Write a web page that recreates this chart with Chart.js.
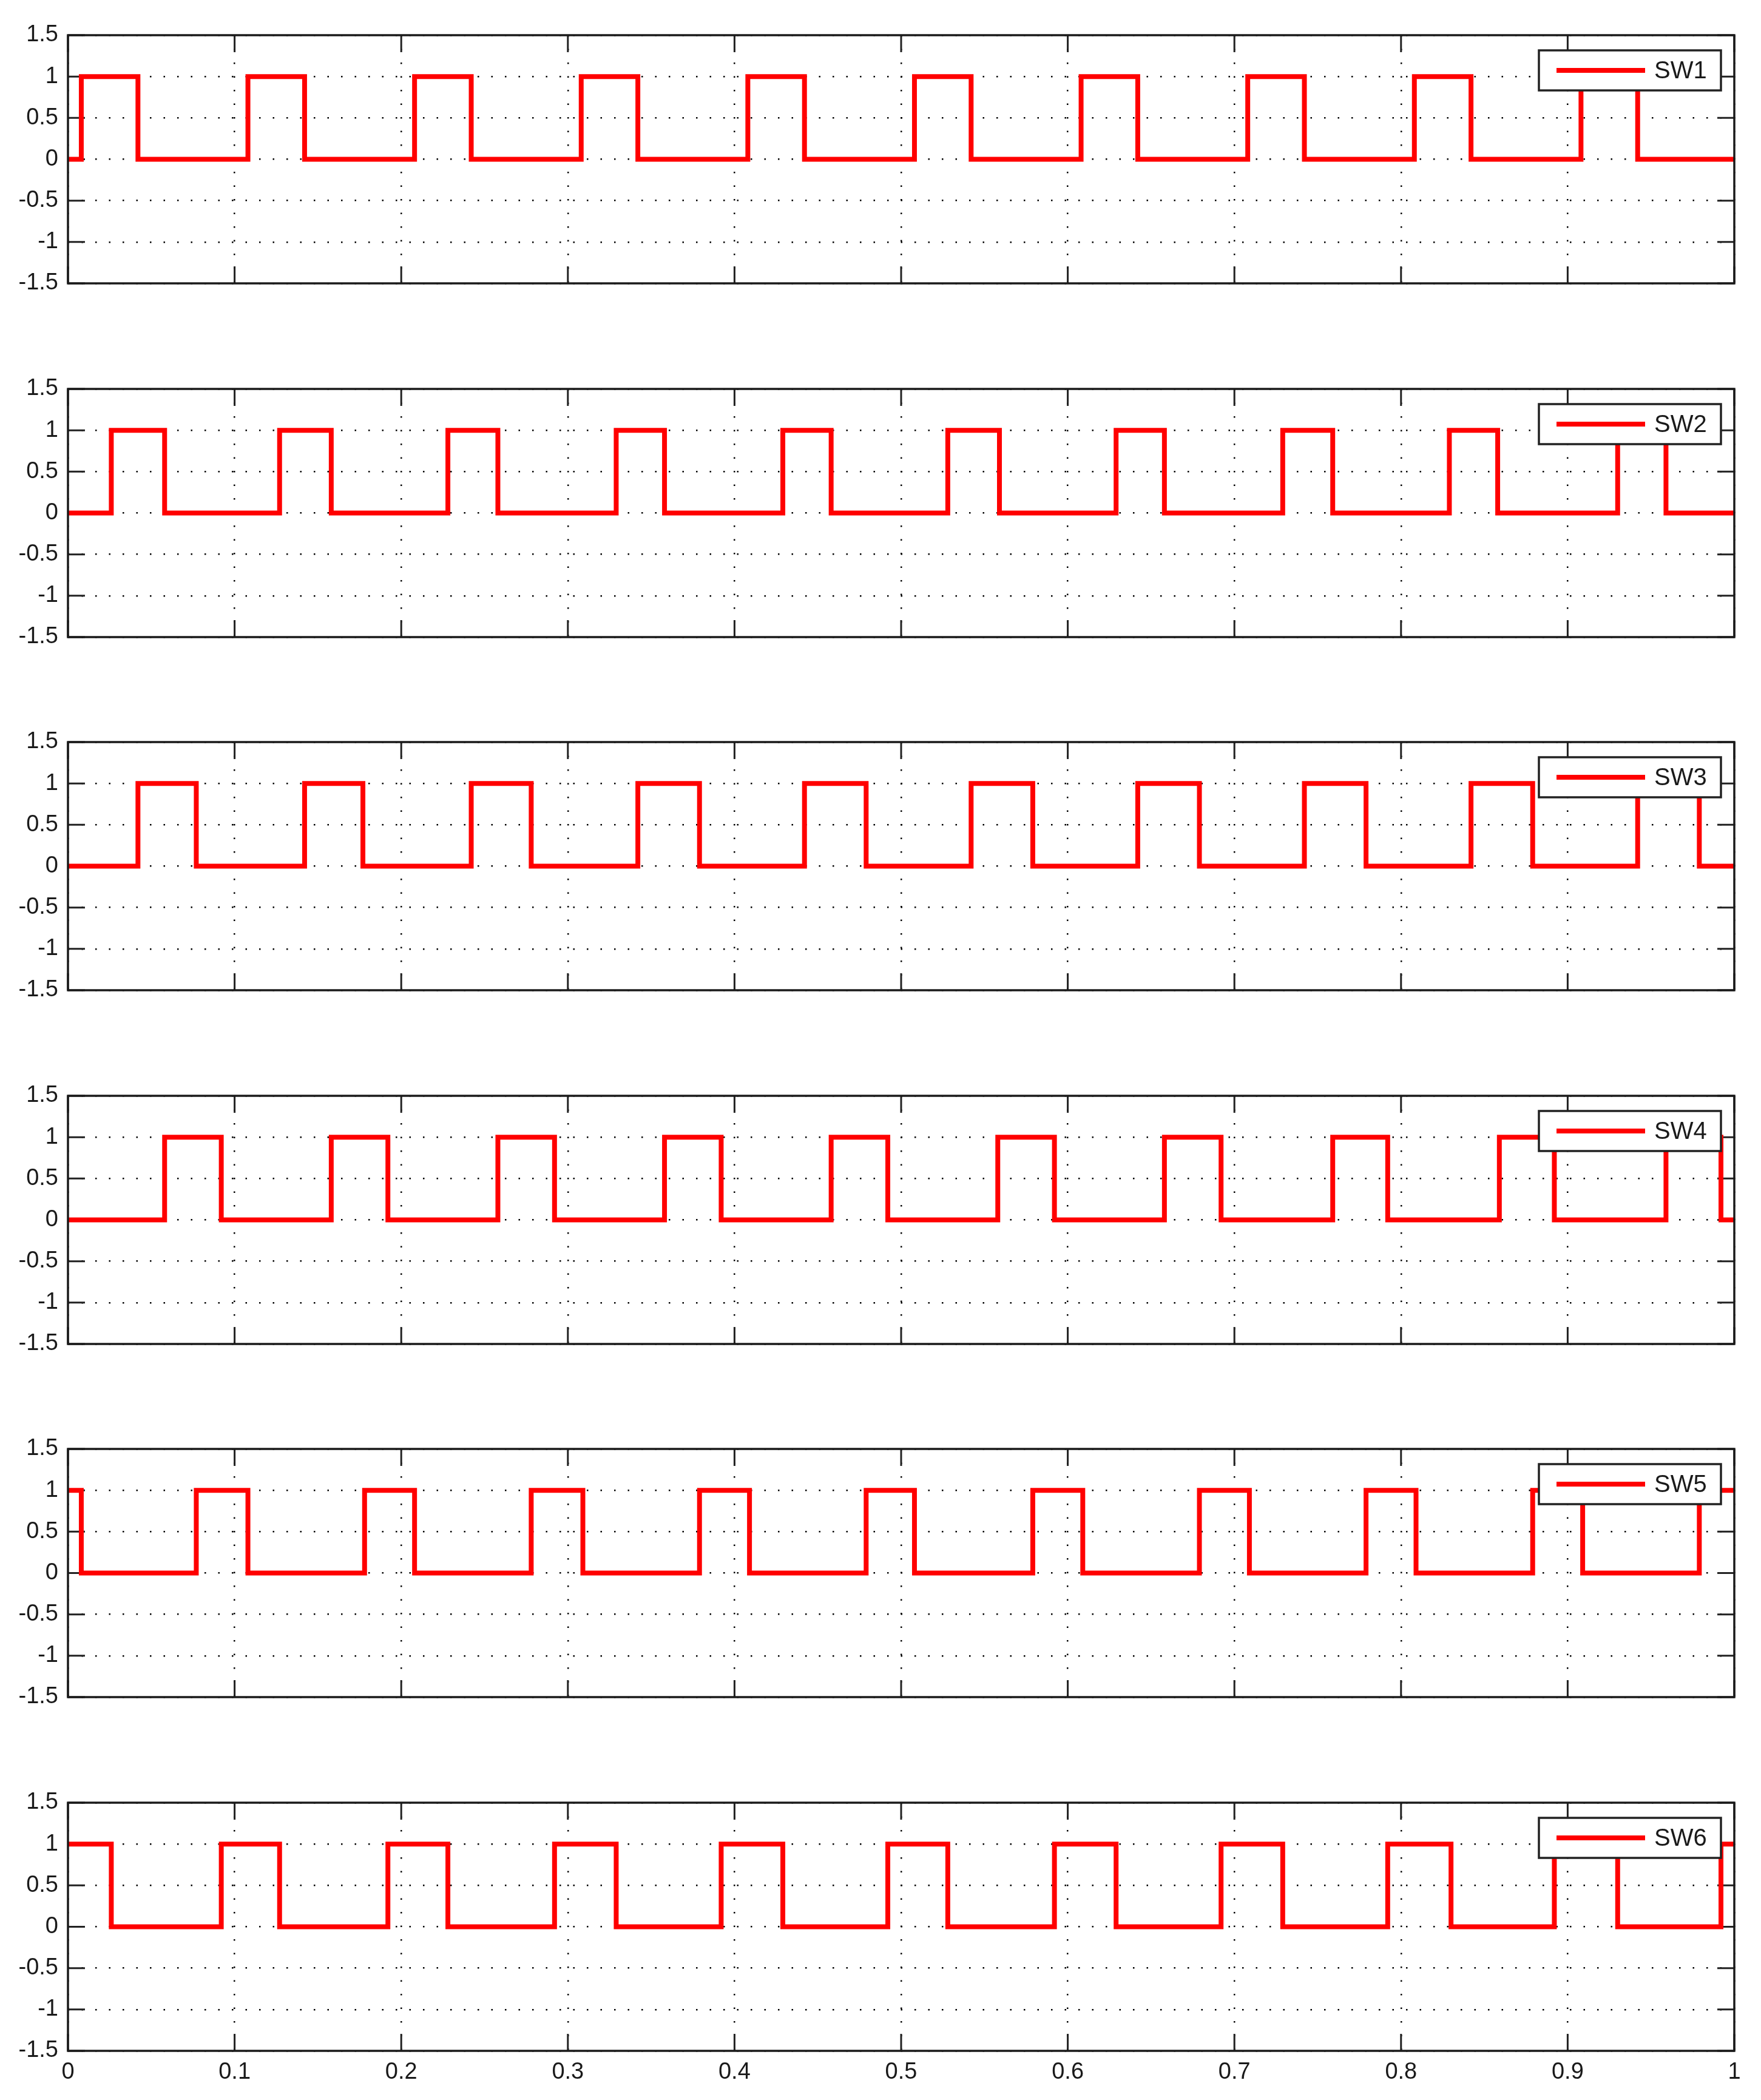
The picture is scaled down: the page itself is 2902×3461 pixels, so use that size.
<!DOCTYPE html>
<html>
<head>
<meta charset="utf-8">
<title>SW1 - SW6</title>
<script src="https://cdn.jsdelivr.net/npm/chart.js@4.4.0/dist/chart.umd.min.js"></script>
<style>
  html, body { margin: 0; padding: 0; background: #fff; }
  #figura { position: relative; width: 2902px; height: 3461px; background: #fff; }
  .painel { position: absolute; left: 0; }
</style>
</head>
<body>
<div id="figura"></div>
<script>
// Dados (tempos de comutação, em s)
const switchNames = ['SW1', 'SW2', 'SW3', 'SW4', 'SW5', 'SW6'];
const startLevels = [0, 0, 0, 0, 1, 1];

const sw1Edges = [0.008, 0.042, 0.108, 0.142, 0.208, 0.242, 0.308, 0.342, 0.408, 0.442,
                  0.508, 0.542, 0.608, 0.642, 0.708, 0.742, 0.808, 0.842, 0.908, 0.942];
const sw2Edges = [0.026, 0.058, 0.127, 0.158, 0.228, 0.258, 0.329, 0.358, 0.429, 0.458,
                  0.528, 0.559, 0.629, 0.658, 0.729, 0.759, 0.829, 0.858, 0.930, 0.959];
const sw3Edges = [0.042, 0.077, 0.142, 0.177, 0.242, 0.278, 0.342, 0.379, 0.442, 0.479,
                  0.542, 0.579, 0.642, 0.679, 0.742, 0.779, 0.842, 0.879, 0.942, 0.979];
const sw4Edges = [0.058, 0.092, 0.158, 0.192, 0.258, 0.292, 0.358, 0.392, 0.458, 0.492,
                  0.558, 0.592, 0.658, 0.692, 0.759, 0.792, 0.859, 0.892, 0.959, 0.992];
const sw5Edges = [0.008, 0.077, 0.108, 0.178, 0.208, 0.278, 0.309, 0.379, 0.409, 0.479,
                  0.508, 0.579, 0.609, 0.679, 0.709, 0.779, 0.809, 0.879, 0.909, 0.979];
const sw6Edges = [0.026, 0.092, 0.127, 0.192, 0.228, 0.292, 0.329, 0.392, 0.429, 0.492,
                  0.528, 0.592, 0.629, 0.692, 0.729, 0.792, 0.830, 0.892, 0.930, 0.992];
const allEdges = [sw1Edges, sw2Edges, sw3Edges, sw4Edges, sw5Edges, sw6Edges];

const xTicks = [0, 0.1, 0.2, 0.3, 0.4, 0.5, 0.6, 0.7, 0.8, 0.9, 1];
const xTickLabels = ['0', '0.1', '0.2', '0.3', '0.4', '0.5', '0.6', '0.7', '0.8', '0.9', '1'];
const yTicks = [-1.5, -1, -0.5, 0, 0.5, 1, 1.5];
const yTickLabels = ['-1.5', '-1', '-0.5', '0', '0.5', '1', '1.5'];

// Layout
const panelTops = [58, 641, 1223, 1806, 2388, 2971];
const PAD_TOP = 30;
const AREA_H = 409;
const X_AXIS_H = 80;
const Y_AXIS_W = 112;
const PAD_RIGHT = 44;
const TICK_LEN = 28;
const FONTE = "'Liberation Sans', Arial, Helvetica, sans-serif";
const COR_TEXTO = '#1a1a1a';

document.addEventListener('DOMContentLoaded', () => {
    switchNames.forEach((nome, i) => criarPainel(i, nome));
});

// Monta os pontos do degrau a partir dos instantes de comutação
function montarPontos(inicio, bordas) {
    const pontos = [{ x: 0, y: inicio }];
    let nivel = inicio;
    bordas.forEach(t => {
        pontos.push({ x: t, y: nivel });
        nivel = 1 - nivel;
        pontos.push({ x: t, y: nivel });
    });
    pontos.push({ x: 1, y: nivel });
    return pontos;
}

// Fixa o tamanho dos eixos para a área do gráfico ficar igual em todos os painéis
function fixarEixo(scale, tamanho) {
    if (scale.isHorizontal()) {
        scale.height = tamanho;
    } else {
        scale.width = tamanho;
    }
    scale.paddingTop = 0;
    scale.paddingBottom = 0;
    scale.paddingLeft = 0;
    scale.paddingRight = 0;
}

// Ticks internos, moldura e legenda estilo MATLAB
const molduraPlugin = {
    id: 'moldura',
    beforeDatasetsDraw(chart) {
        const { ctx, chartArea: a, scales } = chart;
        ctx.save();
        ctx.strokeStyle = '#222';
        ctx.lineWidth = 3;
        ctx.beginPath();
        xTicks.forEach(v => {
            const px = scales.x.getPixelForValue(v);
            ctx.moveTo(px, a.bottom); ctx.lineTo(px, a.bottom - TICK_LEN);
            ctx.moveTo(px, a.top); ctx.lineTo(px, a.top + TICK_LEN);
        });
        yTicks.forEach(v => {
            const py = scales.y.getPixelForValue(v);
            ctx.moveTo(a.left, py); ctx.lineTo(a.left + TICK_LEN, py);
            ctx.moveTo(a.right, py); ctx.lineTo(a.right - TICK_LEN, py);
        });
        ctx.stroke();
        ctx.restore();
    },
    afterDatasetsDraw(chart, args, opts) {
        const { ctx, chartArea: a } = chart;
        ctx.save();
        // moldura
        ctx.strokeStyle = '#1a1a1a';
        ctx.lineWidth = 3.5;
        ctx.strokeRect(a.left, a.top, a.right - a.left, a.bottom - a.top);

        // legenda
        const w = 300, h = 66;
        const bx = a.right - 22 - w;
        const by = a.top + 25;
        ctx.fillStyle = '#fff';
        ctx.fillRect(bx, by, w, h);
        ctx.strokeStyle = '#222';
        ctx.lineWidth = 3.5;
        ctx.strokeRect(bx, by, w, h);

        const ds = chart.data.datasets[0];
        ctx.strokeStyle = ds.borderColor;
        ctx.lineWidth = ds.borderWidth;
        ctx.beginPath();
        ctx.moveTo(bx + 29, by + 33);
        ctx.lineTo(bx + 175, by + 33);
        ctx.stroke();

        ctx.fillStyle = COR_TEXTO;
        ctx.font = '40px ' + FONTE;
        ctx.textBaseline = 'middle';
        ctx.textAlign = 'left';
        ctx.fillText(opts.label, bx + 190, by + 35);
        ctx.restore();
    }
};

function criarPainel(indice, nome) {
    const div = document.createElement('div');
    div.className = 'painel';
    div.style.top = (panelTops[indice] - PAD_TOP) + 'px';
    const canvas = document.createElement('canvas');
    canvas.width = 2902;
    canvas.height = PAD_TOP + AREA_H + X_AXIS_H;
    div.appendChild(canvas);
    document.getElementById('figura').appendChild(div);

    const ultimo = indice === switchNames.length - 1;

    new Chart(canvas, {
        type: 'line',
        data: {
            datasets: [{
                label: nome,
                data: montarPontos(startLevels[indice], allEdges[indice]),
                borderColor: '#ff0000',
                borderWidth: 8,
                pointRadius: 0,
                fill: false,
                tension: 0,
                clip: 0,
            }]
        },
        options: {
            responsive: false,
            animation: false,
            events: [],
            layout: { autoPadding: false, padding: { top: PAD_TOP, right: PAD_RIGHT, left: 0, bottom: 0 } },
            scales: {
                x: {
                    type: 'linear',
                    min: 0,
                    max: 1,
                    afterBuildTicks: s => { s.ticks = xTicks.map(v => ({ value: v })); },
                    afterFit: s => fixarEixo(s, X_AXIS_H),
                    ticks: {
                        display: ultimo,
                        autoSkip: false,
                        maxRotation: 0,
                        padding: 13,
                        color: COR_TEXTO,
                        font: { family: FONTE, size: 38 },
                        callback: (v, i) => xTickLabels[i],
                    },
                    grid: { color: '#000', lineWidth: 2.5, drawTicks: false },
                    border: { display: false, dash: [2.5, 20] },
                },
                y: {
                    min: -1.5,
                    max: 1.5,
                    afterBuildTicks: s => { s.ticks = yTicks.map(v => ({ value: v })); },
                    afterFit: s => fixarEixo(s, Y_AXIS_W),
                    ticks: {
                        padding: 16,
                        color: COR_TEXTO,
                        font: { family: FONTE, size: 38 },
                        callback: (v, i) => yTickLabels[i],
                    },
                    grid: { color: '#000', lineWidth: 2.5, drawTicks: false },
                    border: { display: false, dash: [2.5, 20] },
                }
            },
            plugins: {
                legend: { display: false },
                tooltip: { enabled: false },
                moldura: { label: nome },
            }
        },
        plugins: [molduraPlugin]
    });
}
</script>
</body>
</html>
